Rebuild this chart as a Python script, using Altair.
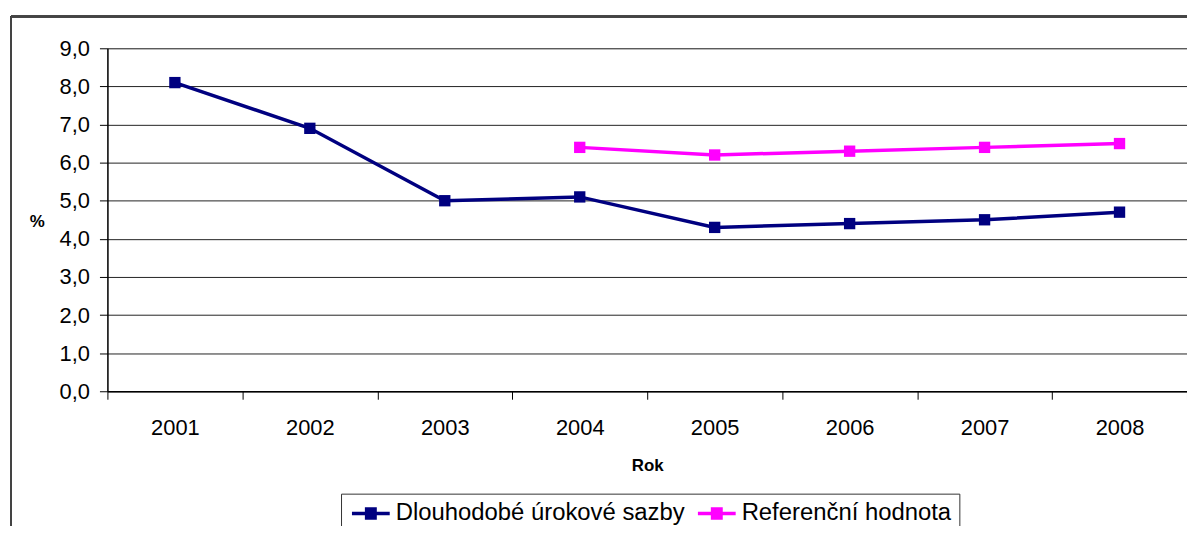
import altair as alt
import pandas as pd

years = ["2001", "2002", "2003", "2004", "2005", "2006", "2007", "2008"]
long_rates = [8.1, 6.9, 5.0, 5.1, 4.3, 4.4, 4.5, 4.7]
ref_years = ["2004", "2005", "2006", "2007", "2008"]
ref_values = [6.4, 6.2, 6.3, 6.4, 6.5]
series_names = ["Dlouhodobé úrokové sazby", "Referenční hodnota"]
series_colors = ["#000080", "#FF00FF"]
y_ticks = [0, 1, 2, 3, 4, 5, 6, 7, 8, 9]

rows = [{"Rok": y, "value": v, "series": series_names[0]} for y, v in zip(years, long_rates)]
rows += [{"Rok": y, "value": v, "series": series_names[1]} for y, v in zip(ref_years, ref_values)]
df = pd.DataFrame(rows)

FONT = "Liberation Sans"
W, H = 1086, 345

# legend symbol: a line with a filled square made of thick horizontal strokes
sym_path = ("M-2.714,0H2.714"
            "M-0.857,-0.64H0.857M-0.857,-0.21H0.857"
            "M-0.857,0.21H0.857M-0.857,0.64H0.857")

lines = alt.Chart(df).mark_line(
    strokeWidth=3.5,
    point=alt.OverlayMarkDef(shape="square", filled=True, size=130, opacity=1),
).encode(
    x=alt.X("Rok:O", sort=years,
            scale=alt.Scale(domain=years, paddingInner=0, paddingOuter=0),
            axis=alt.Axis(title="Rok", labelAngle=0, tickBand="extent",
                          titleFont=FONT, titleFontSize=17, titleFontWeight="bold",
                          titleY=75, titleBaseline="middle", titleColor="#000",
                          labelFont=FONT, labelFontSize=22, labelColor="#000",
                          labelPadding=18, tickSize=8, tickColor="#000",
                          domainColor="#000", domainWidth=1.5, grid=False)),
    y=alt.Y("value:Q", scale=alt.Scale(domain=[0, 9], nice=False, zero=True),
            axis=alt.Axis(title="%", values=y_ticks, titleAngle=0,
                          titleX=-71, titleY=174, titleAlign="center",
                          titleBaseline="middle", titleFont=FONT,
                          titleFontSize=17, titleFontWeight="bold", titleColor="#000",
                          labelExpr="replace(format(datum.value, '.1f'), '.', ',')",
                          labelFont=FONT, labelFontSize=22, labelColor="#000",
                          labelPadding=10, tickSize=8, tickColor="#000",
                          domainColor="#000", domainWidth=1.5,
                          grid=True, gridColor="#222", gridWidth=1)),
    color=alt.Color("series:N",
                    scale=alt.Scale(domain=series_names, range=series_colors),
                    legend=alt.Legend(title=None, orient="none",
                                      legendX=235, legendY=448,
                                      direction="horizontal", columns=2,
                                      symbolType=sym_path, symbolSize=196,
                                      symbolStrokeWidth=3.5, symbolOffset=10,
                                      labelFont=FONT, labelFontSize=24,
                                      labelColor="#000", labelOffset=13,
                                      labelLimit=600,
                                      columnPadding=6, padding=8,
                                      strokeColor="#333", fillColor="#fff")),
    order=alt.Order("Rok:O"),
)

frame_v = alt.Chart(df).mark_rule(color="#444", strokeWidth=1.5).encode(
    x=alt.value(-97), y=alt.value(-32), y2=alt.value(700))
frame_h = alt.Chart(df).mark_rule(color="#444", strokeWidth=1.5).encode(
    x=alt.value(-97), x2=alt.value(1300), y=alt.value(-32))

chart = alt.layer(frame_v, frame_h, lines).properties(
    width=W, height=H,
    autosize=alt.AutoSizeParams(type="none"),
    padding={"left": 100, "top": 39, "right": 0, "bottom": 134},
).configure_view(stroke=None).configure(background="#ffffff")

chart.save("out.html", embed_options={"renderer": "svg", "actions": False})
